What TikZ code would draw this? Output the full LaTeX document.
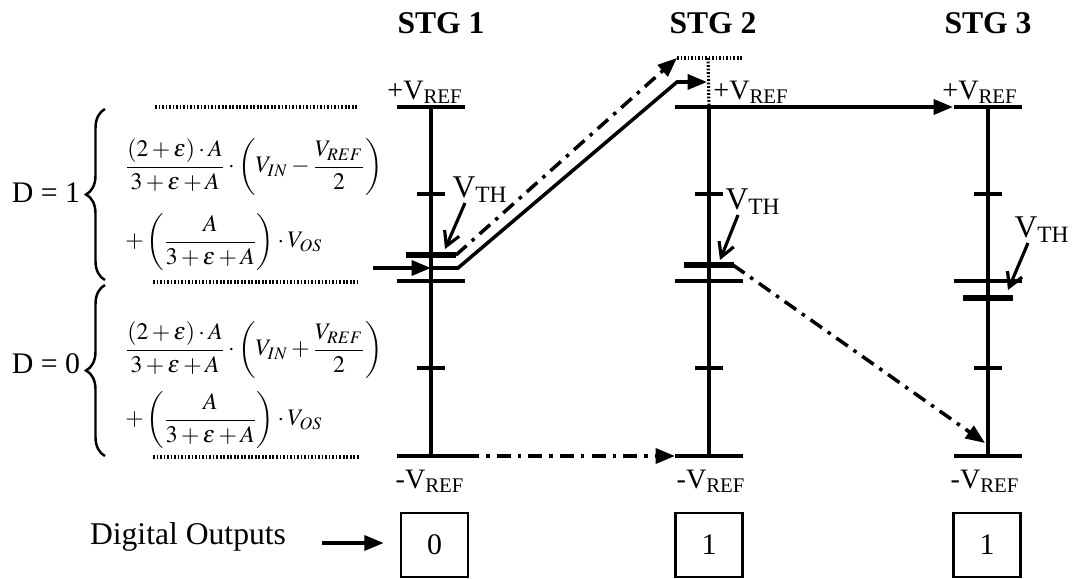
\documentclass[tikz,border=0pt]{standalone}
\usepackage{amsmath}
\usepackage{mathptmx}
\usepackage{fontspec}
\setmainfont{Liberation Serif}
\usetikzlibrary{arrows.meta, positioning, calc, decorations.pathreplacing}

\begin{document}
\begin{tikzpicture}[
        x=0.02cm, y=-0.02cm,
        font=\fontsize{17}{20}\selectfont,
        axis_line/.style={line width=2pt},
        vth_bar/.style={line width=3.6pt},
        flow_arrow/.style={
            -{Triangle[length=11pt, width=8.5pt]},
            line width=2pt
        },
        trace_arrow/.style={
            -{Triangle[length=11pt, width=8.5pt]},
            line width=2pt,
            dash pattern=on 8pt off 4pt on 2pt off 4pt
        },
        guide_line/.style={line width=1.8pt, dash pattern=on 1pt off 1pt},
        vth_arrow/.style={
            -{Straight Barb[length=8pt, width=9pt]},
            line width=1.8pt
        },
        out_box/.style={
            rectangle,
            draw,
            line width=1.5pt,
            minimum width=1.34cm,
            minimum height=1.28cm,
            inner sep=0pt
        },
        stg_label/.style={font=\fontsize{18}{20}\selectfont\bfseries},
        ref_label/.style={font=\fontsize{16}{18}\selectfont, inner sep=0pt},
        th_label/.style={font=\fontsize{18}{20}\selectfont, inner sep=0pt},
        formula/.style={anchor=west, inner sep=0pt, font=\fontsize{13.5}{16}\selectfont},
        d_brace/.style={decorate, decoration={brace, amplitude=0.38cm}, line width=1.4pt}
    ]
    \useasboundingbox (0,0) rectangle (1074,578);

    % Stage headings
    \node[stg_label] (stg1) at (441,23) {STG 1};
    \node[stg_label] (stg2) at (713,23) {STG 2};
    \node[stg_label] (stg3) at (988,23) {STG 3};

    % Stage scales
    \foreach \s/\x/\vth in {1/431/255, 2/709/265, 3/988/298} {
        \coordinate (top\s) at (\x,107);
        \coordinate (bot\s) at (\x,456);
        \coordinate (mid\s) at (\x,281);
        \coordinate (vth\s) at (\x,\vth);
        \draw[axis_line] (top\s) -- (bot\s);
        \draw[axis_line] ($(top\s)+(-34,0)$) -- ($(top\s)+(34,0)$);
        \draw[axis_line] ($(bot\s)+(-34,0)$) -- ($(bot\s)+(34,0)$);
        \draw[axis_line] ($(mid\s)+(-34,0)$) -- ($(mid\s)+(34,0)$);
        \draw[axis_line] (\x-14,194) -- (\x+14,194);
        \draw[axis_line] (\x-14,368) -- (\x+14,368);
        \draw[vth_bar] ($(vth\s)+(-25,0)$) -- ($(vth\s)+(25,0)$);
    }

    % Reference labels
    \node[ref_label] (pref1) at (425,92) {+V\textsubscript{REF}};
    \node[ref_label] (pref2) at (751,92) {+V\textsubscript{REF}};
    \node[ref_label] (pref3) at (980,92) {+V\textsubscript{REF}};
    \node[ref_label] (nref1) at (430,481) {-V\textsubscript{REF}};
    \node[ref_label] (nref2) at (711,481) {-V\textsubscript{REF}};
    \node[ref_label] (nref3) at (985,481) {-V\textsubscript{REF}};

    % Threshold labels and pointers
    \node[th_label] (th1) at (480,190) {V\textsubscript{TH}};
    \node[th_label] (th2) at (753,202) {V\textsubscript{TH}};
    \node[th_label] (th3) at (1042,230) {V\textsubscript{TH}};
    \draw[vth_arrow] (465,203) -- ($(vth1)+(14,-6)$);
    \draw[vth_arrow] (738,215) -- ($(vth2)+(11,-5)$);
    \draw[vth_arrow] (1028,243) -- ($(vth3)+(20,-8)$);

    % Residue of stage 1 (D = 1)
    \coordinate (vin) at (373,268);
    \coordinate (in1) at (431,268);
    \coordinate (res_in2) at (707,82);
    \draw[flow_arrow] (vin) -- (in1);
    \draw[flow_arrow] (in1) -- (458,268) -- (677,82) -- (res_in2);

    % Residue with offset
    \coordinate (over2) at (677,58);
    \draw[trace_arrow] ($(vth1)+(25,0)$) -- (over2);
    \draw[guide_line] (over2) -- (742,58);
    \draw[guide_line] (708,58) -- (top2);

    % Stage 2 and 3 paths
    \draw[flow_arrow] (top2) -- ($(top3)+(-35,0)$);
    \draw[trace_arrow] ($(vth2)+(24,0)$) -- ($(bot3)+(-3,-13)$);
    \draw[trace_arrow] ($(bot1)+(34,0)$) -- ($(bot2)+(-34,0)$);

    % Range of stage 1 residue
    \draw[guide_line] (155,107) -- (357,107);
    \draw[guide_line] (153,282) -- (358,282);
    \draw[guide_line] (153,457) -- (360,457);

    \draw[d_brace] (105,280) -- (105,109);
    \draw[d_brace] (105,456) -- (105,285);
    \node (d_one) at (46,193) {D = 1};
    \node (d_zero) at (46,364) {D = 0};

    \node[formula] (f1a) at (125,167) {$\dfrac{(2+\varepsilon)\cdot A}{3+\varepsilon+A}\cdot\left(V_{IN}-\dfrac{V_{REF}}{2}\right)$};
    \node[formula] (f1b) at (125,242) {$+\left(\dfrac{A}{3+\varepsilon+A}\right)\cdot V_{OS}$};
    \node[formula] (f0a) at (125,350) {$\dfrac{(2+\varepsilon)\cdot A}{3+\varepsilon+A}\cdot\left(V_{IN}+\dfrac{V_{REF}}{2}\right)$};
    \node[formula] (f0b) at (125,420) {$+\left(\dfrac{A}{3+\varepsilon+A}\right)\cdot V_{OS}$};

    % Digital outputs
    \node (dig) at (188,537) {\fontsize{18}{20}\selectfont Digital Outputs};
    \node[out_box] (out1) at (434.5,545) {0};
    \node[out_box] (out2) at (709,545) {1};
    \node[out_box] (out3) at (987,545) {1};
    \coordinate (dig_tail) at (322,543);
    \draw[flow_arrow, shorten >=0.32cm] (dig_tail) -- (dig_tail -| out1.west);

\end{tikzpicture}
\end{document}
